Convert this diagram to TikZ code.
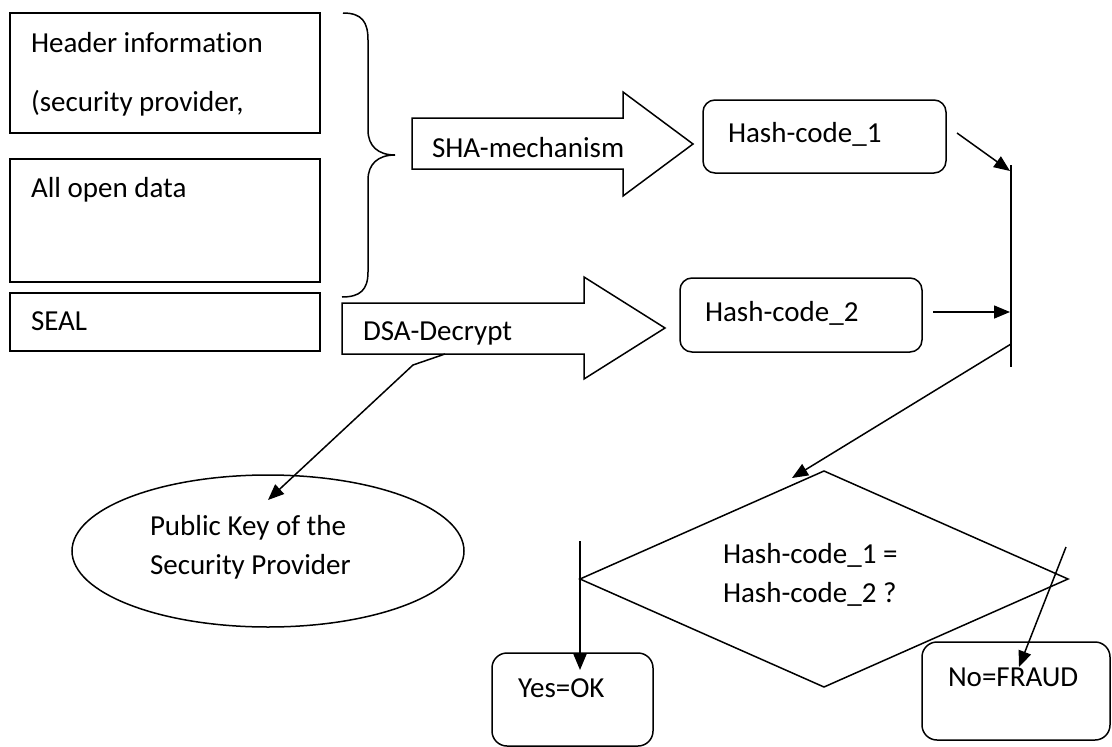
\documentclass[tikz,border=0pt]{standalone}
\usepackage{fontspec}
\setmainfont{Carlito}[Ligatures=NoCommon]
\usetikzlibrary{arrows.meta,shapes.geometric}

\begin{document}
\begin{tikzpicture}[x=1pt,y=-1pt,line width=1.5pt,
  every node/.style={font=\fontsize{29}{39}\selectfont,inner sep=0pt,outer sep=0pt},
  lbl/.style={anchor=base west},
  databox/.style={draw,rectangle},
  roundbox/.style={draw,rectangle,rounded corners=12pt},
  blockarrow/.style={draw,fill=white,line join=miter},
  conn/.style={-{Triangle[length=16pt,width=13pt]}}]

\useasboundingbox (0,0) rectangle (1112,747);

% message parts
\node[databox,minimum width=310pt,minimum height=120pt] (header) at (165,73) {};
\node[databox,minimum width=310pt,minimum height=123pt] (open) at (165,220.5) {};
\node[databox,minimum width=310pt,minimum height=58pt] (seal) at (165,322) {};
\node[lbl] (headerA) at (31,52) {Header information};
\node[lbl] (headerB) at (31,111) {(security provider,};
\node[lbl] (openT) at (31,197) {All open data};
\node[lbl] (sealT) at (31,330) {SEAL};

% brace grouping header and open data
\draw (343,13) .. controls (362,13) and (368,22) .. (368,40)
  -- (368,130) .. controls (368,146) and (378,155) .. (395,155)
  .. controls (378,155) and (368,164) .. (368,180)
  -- (368,272) .. controls (368,290) and (360,297) .. (342,297);

% block arrows
\draw[blockarrow] (412,118) -- (623,118) -- (623,92) -- (693,144)
  -- (623,196) -- (623,169) -- (412,169) -- cycle;
\node[lbl] (sha) at (432,157) {SHA-mechanism};
\draw[blockarrow] (342,303) -- (584,303) -- (584,277) -- (665,328)
  -- (584,379) -- (584,354) -- (342,354) -- cycle;
\node[lbl] (dsa) at (363,340) {DSA-Decrypt};

% hash codes
\node[roundbox,minimum width=243pt,minimum height=73pt] (h1) at (824.5,136.5) {};
\node[lbl] (h1T) at (728,142) {Hash-code\_1};
\node[roundbox,minimum width=242pt,minimum height=74pt] (h2) at (801,315) {};
\node[lbl] (h2T) at (705,321) {Hash-code\_2};

% public key
\node[draw,ellipse,minimum width=392pt,minimum height=152pt] (key) at (268,551) {};
\node[lbl] (keyA) at (150,535) {Public Key of the};
\node[lbl] (keyB) at (150,574) {Security Provider};

% comparison
\node[draw,diamond,minimum width=488pt,minimum height=216pt] (cmp) at (824,579) {};
\node[lbl] (cmpA) at (723,563) {Hash-code\_1 =};
\node[lbl] (cmpB) at (723,602) {Hash-code\_2 ?};

% results
\node[roundbox,rounded corners=15pt,minimum width=161pt,minimum height=93pt] (yes) at (572.5,699.5) {};
\node[lbl] (yesT) at (518,697) {Yes=OK};
\node[roundbox,rounded corners=15pt,minimum width=188pt,minimum height=98pt] (no) at (1016,691) {};
\node[lbl] (noT) at (948,686) {No=FRAUD};

% connector end points
\coordinate (barTop) at (1011,165);
\coordinate (barBot) at (1011,367);
\coordinate (in1) at (1010,171);
\coordinate (in2) at (1010,312);
\coordinate (out) at (1011,344);
\coordinate (h1out) at (957,133);
\coordinate (h2out) at (933,312);
\coordinate (cmpIn) at (792,478);
\coordinate (dsaOut) at (445,354);
\coordinate (dsaBend) at (413,365);
\coordinate (keyIn) at (268,500);
\coordinate (yesFrom) at (580,541);
\coordinate (yesIn) at (580,670);
\coordinate (noFrom) at (1066,547);
\coordinate (noIn) at (1019,667);

% connectors
\draw (barTop) -- (barBot);
\draw[conn] (h1out) -- (in1);
\draw[conn] (h2out) -- (in2);
\draw[conn] (out) -- (cmpIn);
\draw[conn] (dsaOut) -- (dsaBend) -- (keyIn);
\draw[conn] (yesFrom) -- (yesIn);
\draw[conn] (noFrom) -- (noIn);
\end{tikzpicture}
\end{document}
